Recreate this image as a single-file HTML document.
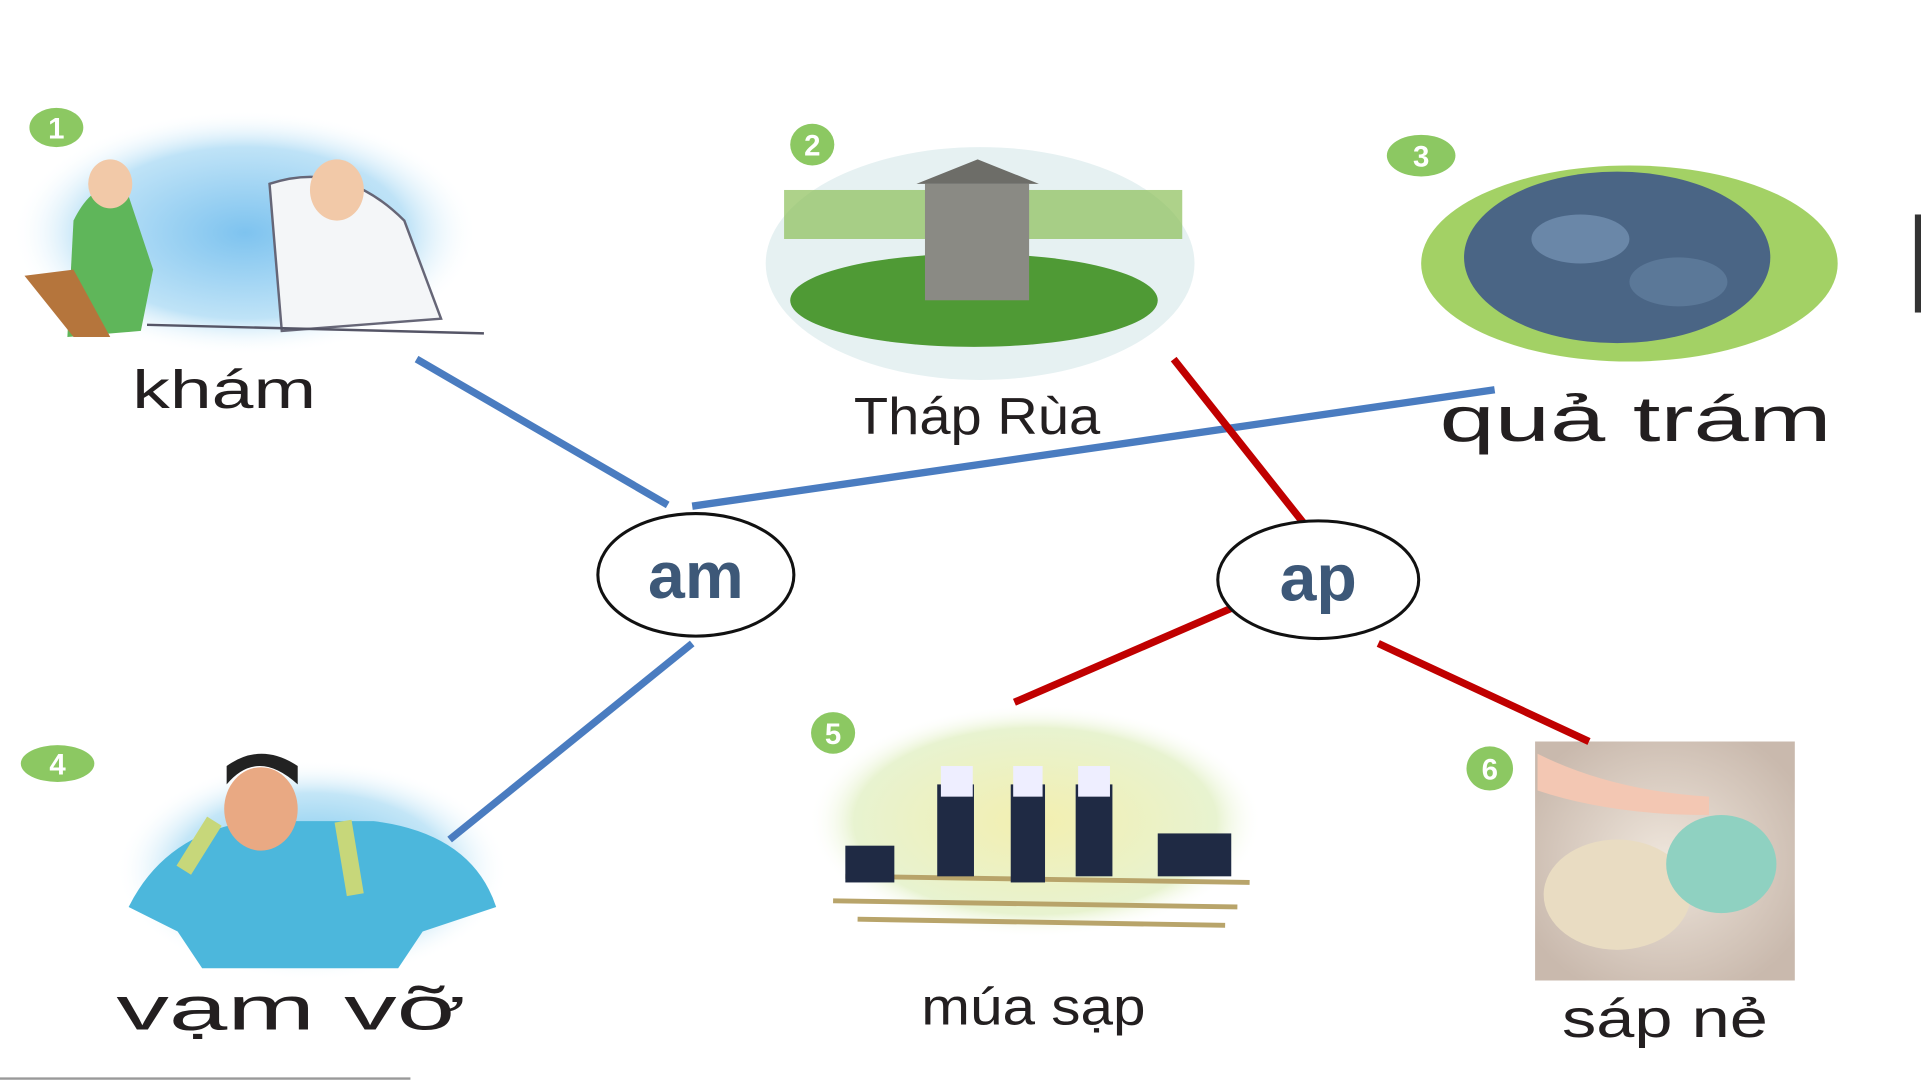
<!DOCTYPE html>
<html><head><meta charset="utf-8"><style>
html,body{margin:0;padding:0;background:#fff;overflow:hidden}
svg{display:block}
text{font-family:"Liberation Sans","DejaVu Sans",sans-serif}
</style></head><body>
<svg width="1921" height="1081" viewBox="0 0 1568 882" preserveAspectRatio="none" xmlns="http://www.w3.org/2000/svg">
<defs>
<radialGradient id="g1" cx="50%" cy="50%" r="50%"><stop offset="0" stop-color="#7ec3ef"/><stop offset="0.7" stop-color="#bfe3f7"/><stop offset="1" stop-color="#fff" stop-opacity="0"/></radialGradient>
<radialGradient id="g4" cx="50%" cy="50%" r="50%"><stop offset="0" stop-color="#6fc3ec"/><stop offset="0.7" stop-color="#c4e6f7"/><stop offset="1" stop-color="#fff" stop-opacity="0"/></radialGradient>
<radialGradient id="g5" cx="50%" cy="50%" r="50%"><stop offset="0" stop-color="#f3efb0"/><stop offset="0.8" stop-color="#e8f3d0"/><stop offset="1" stop-color="#fff" stop-opacity="0"/></radialGradient>
<radialGradient id="g6" cx="50%" cy="50%" r="60%"><stop offset="0" stop-color="#efe6dc"/><stop offset="1" stop-color="#c9b9ad"/></radialGradient>
</defs>
<rect width="1568" height="882" fill="#fff"/>
<ellipse cx="200" cy="190" rx="190" ry="100" fill="url(#g1)"/>
<path d="M60 180 q20-40 45-20 l20 60 -10 50 -60 5z" fill="#5fb65a"/>
<path d="M220 150 q60-20 110 30 l30 80 -130 10z" fill="#f4f6f8" stroke="#667" stroke-width="2"/>
<ellipse cx="275" cy="155" rx="22" ry="25" fill="#f2c9a8"/>
<ellipse cx="90" cy="150" rx="18" ry="20" fill="#f2c9a8"/>
<path d="M20 225 l40 50 30 0 -30-55z" fill="#b5753c"/>
<path d="M120 265 L395 272" stroke="#556" stroke-width="2"/>
<ellipse cx="800" cy="215" rx="175" ry="95" fill="#e6f1f2"/>
<ellipse cx="795" cy="245" rx="150" ry="38" fill="#4f9a35"/>
<rect x="640" y="155" width="325" height="40" fill="#8cbf58" opacity="0.7"/>
<rect x="755" y="150" width="85" height="95" fill="#8a8a84"/>
<path d="M748 150 l50-20 50 20z" fill="#6d6d68"/>
<ellipse cx="1330" cy="215" rx="170" ry="80" fill="#8cc63f" opacity="0.8"/>
<ellipse cx="1320" cy="210" rx="125" ry="70" fill="#4a6585"/>
<ellipse cx="1290" cy="195" rx="40" ry="20" fill="#6a87a8"/>
<ellipse cx="1370" cy="230" rx="40" ry="20" fill="#5b7898"/>
<ellipse cx="255" cy="710" rx="160" ry="90" fill="url(#g4)"/>
<path d="M105 740 q30-60 100-70 l100 0 q80 10 100 70 l-60 20 -20 30 -160 0 -20-30z" fill="#4cb7dc"/>
<ellipse cx="213" cy="660" rx="30" ry="34" fill="#e9a983"/>
<path d="M185 640 q25-30 58 0 l0-15 q-30-20-58 0z" fill="#222"/>
<path d="M150 710 l25-40 M280 670 l10 60" stroke="#c7d77a" stroke-width="14"/>
<ellipse cx="845" cy="670" rx="185" ry="95" fill="url(#g5)"/>
<path d="M690 715 L1020 720 M680 735 L1010 740 M700 750 L1000 755" stroke="#b8a46a" stroke-width="4"/>
<g fill="#1f2a44"><rect x="765" y="640" width="30" height="75"/><rect x="825" y="640" width="28" height="80"/><rect x="878" y="640" width="30" height="75"/><rect x="690" y="690" width="40" height="30"/><rect x="945" y="680" width="60" height="35"/></g>
<g fill="#eef"><rect x="768" y="625" width="26" height="25"/><rect x="827" y="625" width="24" height="25"/><rect x="880" y="625" width="26" height="25"/></g>
<rect x="1253" y="605" width="212" height="195" fill="url(#g6)"/>
<ellipse cx="1320" cy="730" rx="60" ry="45" fill="#e9dcc2"/>
<ellipse cx="1405" cy="705" rx="45" ry="40" fill="#8fd1c1"/>
<path d="M1255 615 q60 30 140 35 l0 15 q-80 0-140-20z" fill="#f3c7b3"/>
<g fill="#8cc862">
<ellipse cx="46" cy="104" rx="22" ry="16"/>
<ellipse cx="663" cy="118" rx="18" ry="17"/>
<ellipse cx="1160" cy="127" rx="28" ry="17"/>
<ellipse cx="47" cy="623" rx="30" ry="15"/>
<ellipse cx="680" cy="598" rx="18" ry="17"/>
<ellipse cx="1216" cy="627" rx="19" ry="18"/>
</g>
<g fill="#fff" font-weight="bold" font-size="24" text-anchor="middle">
<text x="46" y="113">1</text><text x="663" y="127">2</text><text x="1160" y="136">3</text>
<text x="47" y="632">4</text><text x="680" y="607">5</text><text x="1216" y="636">6</text>
</g>
<g fill="#231f20" lengthAdjust="spacingAndGlyphs">
<text x="108" y="333" font-size="44" textLength="150" lengthAdjust="spacingAndGlyphs">khám</text>
<text x="697" y="354" font-size="42" textLength="201" lengthAdjust="spacingAndGlyphs">Tháp Rùa</text>
<text x="1175" y="360" font-size="52" textLength="320" lengthAdjust="spacingAndGlyphs">quả trám</text>
<text x="95" y="840" font-size="50" textLength="285" lengthAdjust="spacingAndGlyphs">vạm vỡ</text>
<text x="752" y="836" font-size="42" textLength="183" lengthAdjust="spacingAndGlyphs">múa sạp</text>
<text x="1275" y="846" font-size="44" textLength="168" lengthAdjust="spacingAndGlyphs">sáp nẻ</text>
</g>
<g stroke="#4a7cc0" stroke-width="6">
<line x1="340" y1="293" x2="545" y2="412"/>
<line x1="565" y1="413" x2="1220" y2="318"/>
<line x1="565" y1="525" x2="367" y2="685"/>
</g>
<g stroke="#c00000" stroke-width="6">
<line x1="958" y1="293" x2="1065" y2="428"/>
<line x1="1015" y1="492" x2="828" y2="573"/>
<line x1="1125" y1="525" x2="1297" y2="605"/>
</g>
<ellipse cx="568" cy="469" rx="80" ry="50" fill="#fff" stroke="#111" stroke-width="2.5"/>
<ellipse cx="1076" cy="473" rx="82" ry="48" fill="#fff" stroke="#111" stroke-width="2.5"/>
<text x="568" y="488" font-size="54" font-weight="bold" fill="#3d5878" text-anchor="middle">am</text>
<text x="1076" y="490" font-size="54" font-weight="bold" fill="#3d5878" text-anchor="middle">ap</text>
<line x1="0" y1="880" x2="335" y2="880" stroke="#999" stroke-width="2"/>
<rect x="1563" y="175" width="5" height="80" fill="#333"/>
</svg>
</body></html>
